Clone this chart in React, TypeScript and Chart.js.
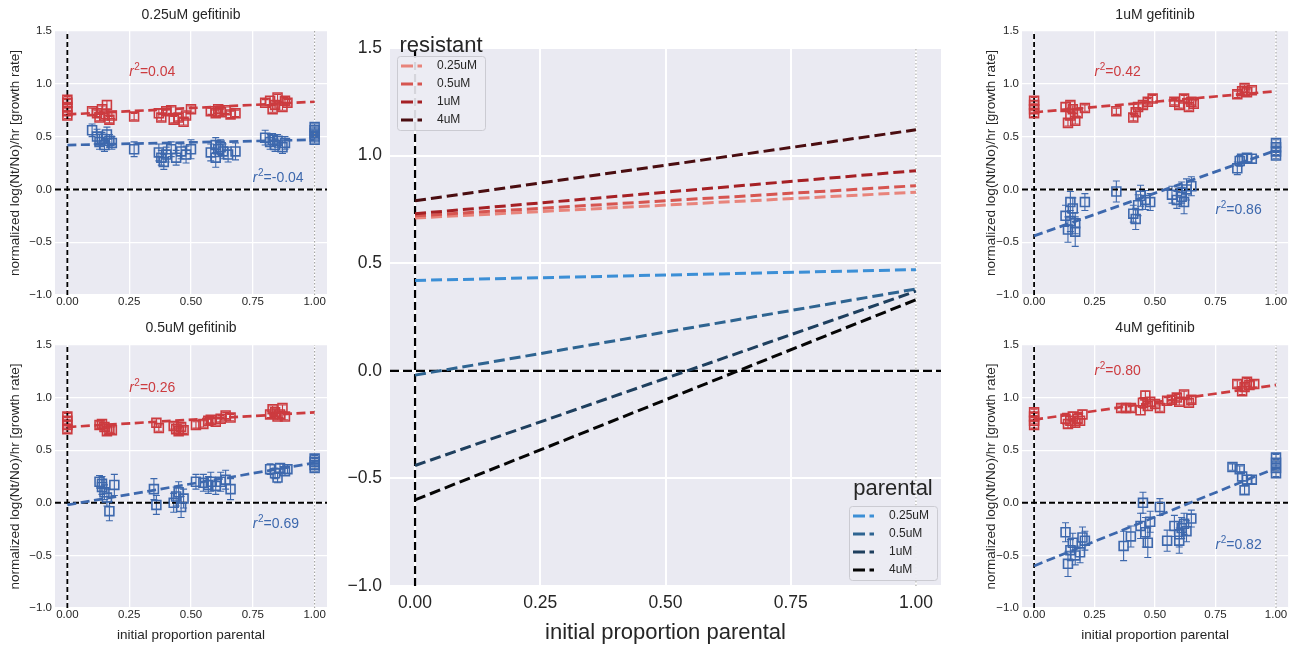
import React, { useEffect, useRef } from 'react';
import { Chart, registerables } from 'chart.js';

Chart.register(...registerables);

// ---------- data ----------
const X_TICKS = [0, 0.25, 0.5, 0.75, 1];
const Y_TICKS = [-1, -0.5, 0, 0.5, 1, 1.5];
const X_MIN = -0.05;
const X_MAX = 1.05;
const Y_MIN = -1;
const Y_MAX = 1.5;

const DOSES = ['0.25uM', '0.5uM', '1uM', '4uM'];
const PANEL_TITLES = ['0.25uM gefitinib', '0.5uM gefitinib', '1uM gefitinib', '4uM gefitinib'];
const X_TITLE = 'initial proportion parental';
const Y_TITLE = 'normalized log(Nt/No)/hr [growth rate]';

// fitted lines: [value at x=0, value at x=1]
const RESISTANT_FIT = [[0.71, 0.83], [0.72, 0.86], [0.73, 0.93], [0.79, 1.12]];
const PARENTAL_FIT = [[0.42, 0.47], [-0.02, 0.38], [-0.44, 0.37], [-0.6, 0.33]];

const RESISTANT_R2 = ['0.04', '0.26', '0.42', '0.80'];
const PARENTAL_R2 = ['-0.04', '0.69', '0.86', '0.82'];
const RESISTANT_R2_AT = [[0.25, 1.12], [0.25, 1.1], [0.25, 1.12], [0.25, 1.26]];
const PARENTAL_R2_AT = [[0.75, 0.12], [0.75, -0.19], [0.75, -0.19], [0.75, -0.39]];

// points: [x, y, error]
const RES_025 = [
  [0, 0.7, 0.03], [0, 0.74, 0.03], [0, 0.78, 0.03], [0, 0.82, 0.03], [0, 0.85, 0.03],
  [0.1, 0.74, 0.03], [0.12, 0.72, 0.03], [0.13, 0.68, 0.03], [0.14, 0.76, 0.03], [0.15, 0.7, 0.03],
  [0.16, 0.8, 0.04], [0.17, 0.66, 0.03], [0.18, 0.7, 0.03],
  [0.27, 0.69, 0.03],
  [0.37, 0.72, 0.04], [0.38, 0.68, 0.03], [0.4, 0.74, 0.03], [0.42, 0.75, 0.03], [0.43, 0.66, 0.03],
  [0.45, 0.68, 0.03], [0.47, 0.64, 0.03], [0.48, 0.7, 0.03], [0.5, 0.76, 0.03],
  [0.58, 0.74, 0.03], [0.6, 0.72, 0.03], [0.61, 0.76, 0.03], [0.62, 0.73, 0.03], [0.64, 0.75, 0.03],
  [0.66, 0.71, 0.03], [0.68, 0.72, 0.03],
  [0.8, 0.82, 0.03], [0.82, 0.84, 0.04], [0.83, 0.76, 0.03], [0.84, 0.8, 0.03], [0.85, 0.87, 0.03],
  [0.87, 0.78, 0.03], [0.88, 0.84, 0.03], [0.89, 0.82, 0.03],
];
const PAR_025 = [
  [1, 0.47, 0.03], [1, 0.5, 0.03], [1, 0.53, 0.03], [1, 0.56, 0.03], [1, 0.59, 0.03],
  [0.1, 0.56, 0.06], [0.12, 0.5, 0.07], [0.13, 0.45, 0.07], [0.14, 0.48, 0.06], [0.15, 0.42, 0.06],
  [0.16, 0.52, 0.07], [0.17, 0.46, 0.06], [0.18, 0.44, 0.06],
  [0.27, 0.38, 0.07],
  [0.37, 0.35, 0.08], [0.38, 0.3, 0.07], [0.39, 0.26, 0.07], [0.4, 0.33, 0.07], [0.42, 0.38, 0.07],
  [0.44, 0.3, 0.07], [0.46, 0.36, 0.07], [0.48, 0.33, 0.08], [0.5, 0.38, 0.09],
  [0.58, 0.35, 0.08], [0.6, 0.3, 0.09], [0.6, 0.42, 0.07], [0.61, 0.38, 0.07], [0.62, 0.4, 0.07],
  [0.63, 0.36, 0.07], [0.65, 0.33, 0.07], [0.68, 0.36, 0.08],
  [0.8, 0.49, 0.07], [0.82, 0.45, 0.07], [0.83, 0.47, 0.06], [0.84, 0.42, 0.06], [0.85, 0.46, 0.06],
  [0.87, 0.4, 0.06], [0.88, 0.44, 0.06],
];
const RES_05 = [
  [0, 0.7, 0.03], [0, 0.74, 0.03], [0, 0.78, 0.03], [0, 0.82, 0.03],
  [0.13, 0.74, 0.03], [0.14, 0.75, 0.03], [0.15, 0.72, 0.03], [0.16, 0.68, 0.03], [0.17, 0.7, 0.03],
  [0.18, 0.69, 0.03],
  [0.36, 0.76, 0.04], [0.37, 0.71, 0.03],
  [0.43, 0.73, 0.03], [0.44, 0.7, 0.03], [0.45, 0.68, 0.03], [0.46, 0.72, 0.03], [0.47, 0.69, 0.03],
  [0.52, 0.74, 0.03], [0.55, 0.75, 0.03], [0.57, 0.78, 0.03], [0.58, 0.79, 0.03], [0.6, 0.77, 0.03],
  [0.62, 0.8, 0.03], [0.64, 0.83, 0.03], [0.66, 0.81, 0.03],
  [0.82, 0.84, 0.03], [0.83, 0.89, 0.03], [0.84, 0.86, 0.03], [0.85, 0.82, 0.03], [0.86, 0.84, 0.03],
  [0.87, 0.9, 0.03], [0.88, 0.82, 0.03],
];
const PAR_05 = [
  [1, 0.33, 0.03], [1, 0.36, 0.03], [1, 0.39, 0.03], [1, 0.42, 0.03],
  [0.13, 0.2, 0.06], [0.14, 0.15, 0.07], [0.14, 0.18, 0.07], [0.15, 0.1, 0.07], [0.16, 0.05, 0.08],
  [0.17, -0.08, 0.09], [0.19, 0.17, 0.1],
  [0.35, 0.13, 0.1], [0.36, -0.02, 0.09],
  [0.43, 0.0, 0.09], [0.44, 0.06, 0.09], [0.45, 0.1, 0.1], [0.46, -0.04, 0.1], [0.47, 0.04, 0.09],
  [0.52, 0.2, 0.07], [0.55, 0.19, 0.08], [0.57, 0.17, 0.08], [0.58, 0.2, 0.09], [0.6, 0.16, 0.08],
  [0.62, 0.2, 0.09], [0.64, 0.22, 0.09], [0.66, 0.13, 0.1],
  [0.82, 0.32, 0.05], [0.84, 0.28, 0.05], [0.85, 0.24, 0.05], [0.86, 0.33, 0.04], [0.88, 0.3, 0.04],
  [0.89, 0.32, 0.04],
];
const RES_1 = [
  [0, 0.72, 0.03], [0, 0.76, 0.03], [0, 0.8, 0.03], [0, 0.84, 0.03],
  [0.13, 0.78, 0.04], [0.14, 0.63, 0.03], [0.15, 0.7, 0.03], [0.15, 0.8, 0.03], [0.16, 0.76, 0.03],
  [0.17, 0.65, 0.03], [0.18, 0.72, 0.03], [0.21, 0.77, 0.03],
  [0.34, 0.74, 0.03],
  [0.41, 0.68, 0.03], [0.42, 0.73, 0.03], [0.43, 0.78, 0.03], [0.45, 0.8, 0.03], [0.47, 0.83, 0.03],
  [0.49, 0.86, 0.03],
  [0.58, 0.83, 0.03], [0.6, 0.8, 0.03], [0.62, 0.86, 0.03], [0.64, 0.78, 0.03], [0.65, 0.83, 0.03],
  [0.66, 0.81, 0.03],
  [0.84, 0.9, 0.03], [0.86, 0.93, 0.03], [0.87, 0.96, 0.03], [0.88, 0.92, 0.03], [0.9, 0.94, 0.03],
];
const PAR_1 = [
  [1, 0.32, 0.03], [1, 0.36, 0.03], [1, 0.4, 0.03], [1, 0.44, 0.03],
  [0.13, -0.25, 0.1], [0.14, -0.38, 0.12], [0.15, -0.12, 0.1], [0.15, -0.3, 0.1], [0.16, -0.18, 0.1],
  [0.17, -0.4, 0.14], [0.17, -0.32, 0.1], [0.21, -0.12, 0.08],
  [0.34, -0.02, 0.1],
  [0.41, -0.23, 0.08], [0.42, -0.28, 0.1], [0.43, -0.15, 0.1], [0.44, -0.06, 0.1], [0.46, -0.1, 0.09],
  [0.48, -0.12, 0.08],
  [0.57, -0.05, 0.08], [0.59, -0.1, 0.08], [0.61, -0.03, 0.1], [0.61, -0.07, 0.09], [0.62, -0.12, 0.11],
  [0.63, 0.0, 0.1], [0.65, 0.03, 0.09],
  [0.84, 0.2, 0.06], [0.85, 0.27, 0.05], [0.86, 0.29, 0.04], [0.88, 0.3, 0.04], [0.9, 0.29, 0.04],
];
const RES_4 = [
  [0, 0.74, 0.03], [0, 0.78, 0.03], [0, 0.82, 0.03], [0, 0.86, 0.03],
  [0.13, 0.8, 0.05], [0.14, 0.75, 0.04], [0.15, 0.78, 0.04], [0.16, 0.82, 0.04], [0.17, 0.76, 0.04],
  [0.18, 0.8, 0.04], [0.19, 0.78, 0.04], [0.2, 0.84, 0.04],
  [0.36, 0.9, 0.03], [0.38, 0.9, 0.03], [0.4, 0.9, 0.03],
  [0.44, 0.88, 0.04], [0.45, 0.95, 0.05], [0.46, 1.02, 0.04], [0.47, 0.92, 0.04], [0.48, 0.96, 0.04],
  [0.5, 0.94, 0.03], [0.52, 0.9, 0.03],
  [0.55, 0.97, 0.03], [0.57, 0.98, 0.03], [0.59, 1.0, 0.03], [0.6, 0.96, 0.03], [0.62, 1.03, 0.03],
  [0.64, 0.95, 0.03], [0.65, 0.98, 0.03],
  [0.84, 1.13, 0.03], [0.86, 1.06, 0.03], [0.87, 1.1, 0.03], [0.88, 1.15, 0.03], [0.89, 1.12, 0.03],
  [0.91, 1.13, 0.03],
];
const PAR_4 = [
  [1, 0.28, 0.03], [1, 0.33, 0.03], [1, 0.38, 0.03], [1, 0.43, 0.03],
  [0.13, -0.28, 0.09], [0.14, -0.58, 0.12], [0.15, -0.45, 0.1], [0.16, -0.38, 0.09], [0.17, -0.5, 0.09],
  [0.19, -0.47, 0.1], [0.2, -0.33, 0.1], [0.21, -0.36, 0.09],
  [0.37, -0.41, 0.14], [0.4, -0.32, 0.1],
  [0.44, -0.22, 0.12], [0.45, 0.0, 0.1], [0.46, -0.28, 0.14], [0.47, -0.38, 0.14], [0.48, -0.18, 0.1],
  [0.52, -0.04, 0.08], [0.55, -0.36, 0.1],
  [0.58, -0.22, 0.1], [0.6, -0.3, 0.12], [0.6, -0.36, 0.12], [0.61, -0.24, 0.1], [0.62, -0.2, 0.1],
  [0.63, -0.27, 0.1], [0.65, -0.15, 0.08],
  [0.82, 0.34, 0.03], [0.85, 0.32, 0.03], [0.86, 0.25, 0.04], [0.87, 0.12, 0.04], [0.88, 0.22, 0.04],
  [0.9, 0.22, 0.04],
];
const RES_POINTS = [RES_025, RES_05, RES_1, RES_4];
const PAR_POINTS = [PAR_025, PAR_05, PAR_1, PAR_4];

// ---------- styles ----------
const FONT = "'Liberation Sans', Arial, Helvetica, sans-serif";
const TEXT_COLOR = '#262626';
const BG = '#EAEAF2';
const RED = '#cc3b3f';
const BLUE = '#3d68ad';
const RESISTANT_COLORS = ['#e8847b', '#d65550', '#a52024', '#4a0d10'];
const PARENTAL_COLORS = ['#3c8fd6', '#2e6491', '#1e3f5e', '#050505'];

const fmt = (v: number, d: number) => (v < -1e-9 ? '\u2212' : '') + Math.abs(v).toFixed(d);

const bgPlugin = {
  id: 'bgFill',
  beforeDraw(chart: any) {
    const { ctx, chartArea: a } = chart;
    ctx.save();
    ctx.fillStyle = BG;
    ctx.fillRect(a.left, a.top, a.right - a.left, a.bottom - a.top);
    ctx.restore();
  },
};

const errorBarPlugin = {
  id: 'errorBars',
  beforeDatasetsDraw(chart: any) {
    const { ctx } = chart;
    const xs = chart.scales.x;
    const ys = chart.scales.y;
    chart.data.datasets.forEach((ds: any) => {
      if (!ds.errorBars) return;
      ctx.save();
      ctx.strokeStyle = ds.borderColor;
      ctx.lineWidth = 1.1;
      ds.data.forEach((p: any, j: number) => {
        const e = ds.errorBars[j];
        const px = xs.getPixelForValue(p.x);
        const y1 = ys.getPixelForValue(p.y - e);
        const y2 = ys.getPixelForValue(p.y + e);
        ctx.beginPath();
        ctx.moveTo(px, y1);
        ctx.lineTo(px, y2);
        ctx.moveTo(px - 3.5, y1);
        ctx.lineTo(px + 3.5, y1);
        ctx.moveTo(px - 3.5, y2);
        ctx.lineTo(px + 3.5, y2);
        ctx.stroke();
      });
      ctx.restore();
    });
  },
};

function drawR2(ctx: CanvasRenderingContext2D, x: number, y: number, value: string, color: string) {
  ctx.save();
  ctx.fillStyle = color;
  ctx.textAlign = 'left';
  ctx.textBaseline = 'alphabetic';
  const base = y + 5;
  ctx.font = `italic 14px ${FONT}`;
  ctx.fillText('r', x, base);
  let cx = x + ctx.measureText('r').width + 0.5;
  ctx.font = `10px ${FONT}`;
  ctx.fillText('2', cx, base - 6);
  cx += ctx.measureText('2').width;
  ctx.font = `14px ${FONT}`;
  ctx.fillText('=' + value, cx, base);
  ctx.restore();
}

function refLines(vWidth: number, vDash: number[], hWidth: number, hDash: number[]) {
  return [
    {
      data: [{ x: X_MIN, y: 0 }, { x: X_MAX, y: 0 }],
      showLine: true, borderColor: '#000', borderWidth: hWidth, borderDash: hDash, pointRadius: 0,
    },
    {
      data: [{ x: 0, y: Y_MIN }, { x: 0, y: Y_MAX }],
      showLine: true, borderColor: '#000', borderWidth: vWidth, borderDash: vDash, pointRadius: 0,
    },
    {
      data: [{ x: 1, y: Y_MIN }, { x: 1, y: Y_MAX }],
      showLine: true, borderColor: '#9a9a9a', borderWidth: 1, borderDash: [1.5, 2], pointRadius: 0,
    },
  ];
}

function scales(opt: any) {
  return {
    x: {
      type: 'linear',
      min: X_MIN,
      max: X_MAX,
      afterBuildTicks: (s: any) => { s.ticks = X_TICKS.map((v) => ({ value: v })); },
      afterFit: (s: any) => { s.height = opt.xHeight; },
      grid: { color: '#ffffff', lineWidth: opt.gridWidth, drawTicks: false },
      border: { display: false },
      ticks: {
        autoSkip: false, maxRotation: 0, padding: opt.xTickPad, color: TEXT_COLOR,
        font: { family: FONT, size: opt.tickSize },
        callback: (v: any) => fmt(Number(v), 2),
      },
      title: opt.xTitle
        ? { display: true, text: X_TITLE, color: TEXT_COLOR, font: { family: FONT, size: opt.xTitleSize }, padding: { top: 0, bottom: opt.xTitlePad } }
        : { display: false },
    },
    y: {
      type: 'linear',
      min: Y_MIN,
      max: Y_MAX,
      afterBuildTicks: (s: any) => { s.ticks = Y_TICKS.map((v) => ({ value: v })); },
      afterFit: (s: any) => { s.width = opt.yWidth; },
      grid: { color: '#ffffff', lineWidth: opt.gridWidth, drawTicks: false },
      border: { display: false },
      ticks: {
        autoSkip: false, padding: opt.yTickPad, color: TEXT_COLOR,
        font: { family: FONT, size: opt.tickSize },
        callback: (v: any) => fmt(Number(v), 1),
      },
      title: opt.yTitle
        ? { display: true, text: Y_TITLE, color: TEXT_COLOR, font: { family: FONT, size: 13.5 }, padding: { top: opt.yTitlePad, bottom: 0 } }
        : { display: false },
    },
  };
}

type PanelProps = {
  idx: number; left: number; top: number; w: number; h: number;
  L: number; T: number; R: number; B: number;
  titleCenter: number; yTitlePad: number; xTitle: boolean;
};

function MiniPanel(p: PanelProps) {
  const ref = useRef<HTMLCanvasElement>(null);
  useEffect(() => {
    const i = p.idx;
    const fitDs = (vals: number[], color: string) => ({
      data: [{ x: 0, y: vals[0] }, { x: 1, y: vals[1] }],
      showLine: true, borderColor: color, borderWidth: 2.7, borderDash: [9, 4.5], pointRadius: 0,
    });
    const ptsDs = (pts: number[][], color: string) => ({
      data: pts.map((q) => ({ x: q[0], y: q[1] })),
      errorBars: pts.map((q) => q[2]),
      showLine: false,
      borderColor: color,
      backgroundColor: 'rgba(0,0,0,0)',
      pointStyle: 'rect',
      pointRadius: 6.3,
      pointBorderWidth: 1.6,
      pointBorderColor: color,
      pointBackgroundColor: 'rgba(0,0,0,0)',
    });
    const textPlugin = {
      id: 'panelText',
      afterDraw(chart: any) {
        const { ctx, chartArea: a } = chart;
        ctx.save();
        ctx.fillStyle = TEXT_COLOR;
        ctx.font = `14px ${FONT}`;
        ctx.textAlign = 'center';
        ctx.textBaseline = 'middle';
        ctx.fillText(PANEL_TITLES[i], (a.left + a.right) / 2, p.titleCenter);
        ctx.restore();
      },
      afterDatasetsDraw(chart: any) {
        const xs = chart.scales.x;
        const ys = chart.scales.y;
        drawR2(chart.ctx, xs.getPixelForValue(RESISTANT_R2_AT[i][0]), ys.getPixelForValue(RESISTANT_R2_AT[i][1]), RESISTANT_R2[i], RED);
        drawR2(chart.ctx, xs.getPixelForValue(PARENTAL_R2_AT[i][0]), ys.getPixelForValue(PARENTAL_R2_AT[i][1]), PARENTAL_R2[i], BLUE);
      },
    };
    const chart = new Chart(ref.current as HTMLCanvasElement, {
      type: 'scatter',
      data: {
        datasets: [
          fitDs(RESISTANT_FIT[i], RED),
          fitDs(PARENTAL_FIT[i], BLUE),
          ptsDs(RES_POINTS[i], RED),
          ptsDs(PAR_POINTS[i], BLUE),
          ...refLines(1.8, [5, 3], 2, [6, 3]),
        ] as any,
      },
      options: {
        animation: false,
        responsive: false,
        maintainAspectRatio: false,
        events: [],
        layout: { padding: { top: p.T, left: 0, right: p.w - p.R, bottom: 0 } },
        plugins: {
          legend: { display: false },
          tooltip: { enabled: false },
          title: { display: false },
        },
        scales: scales({
          xHeight: p.h - p.B, yWidth: p.L, gridWidth: 1.3, tickSize: 11.5,
          xTickPad: 0, yTickPad: 3, xTitle: p.xTitle, xTitleSize: 13.5, xTitlePad: 3,
          yTitle: true, yTitlePad: p.yTitlePad,
        }) as any,
      },
      plugins: [bgPlugin, errorBarPlugin, textPlugin],
    });
    return () => chart.destroy();
  }, []);
  return (
    <canvas
      ref={ref}
      width={p.w}
      height={p.h}
      style={{ position: 'absolute', left: p.left, top: p.top, width: p.w, height: p.h }}
    />
  );
}

function drawGroupLegend(ctx: CanvasRenderingContext2D, bx: number, by: number, title: string, colors: string[], titleGap: number) {
  const w = 88;
  const h = 74;
  ctx.save();
  ctx.fillStyle = 'rgba(236,236,243,0.9)';
  ctx.strokeStyle = '#cbcbd2';
  ctx.lineWidth = 1;
  ctx.beginPath();
  (ctx as any).roundRect(bx + 0.5, by + 0.5, w, h, 3);
  ctx.fill();
  ctx.stroke();
  ctx.fillStyle = TEXT_COLOR;
  ctx.font = `22px ${FONT}`;
  ctx.textAlign = 'center';
  ctx.textBaseline = 'alphabetic';
  ctx.fillText(title, bx + w / 2, by - titleGap);
  DOSES.forEach((d, i) => {
    const yy = by + 10 + i * 18;
    ctx.strokeStyle = colors[i];
    ctx.lineWidth = 3;
    ctx.setLineDash([12, 4.5]);
    ctx.beginPath();
    ctx.moveTo(bx + 4, yy);
    ctx.lineTo(bx + 25, yy);
    ctx.stroke();
    ctx.setLineDash([]);
    ctx.fillStyle = TEXT_COLOR;
    ctx.font = `12px ${FONT}`;
    ctx.textAlign = 'left';
    ctx.textBaseline = 'middle';
    ctx.fillText(d, bx + 40, yy);
  });
  ctx.restore();
}

function CenterPanel() {
  const ref = useRef<HTMLCanvasElement>(null);
  useEffect(() => {
    const lineDs = (vals: number[], color: string) => ({
      data: [{ x: 0, y: vals[0] }, { x: 1, y: vals[1] }],
      showLine: true, borderColor: color, borderWidth: 3, borderDash: [11, 5], pointRadius: 0,
    });
    const legendPlugin = {
      id: 'groupLegends',
      afterDraw(chart: any) {
        const { ctx, chartArea: a } = chart;
        drawGroupLegend(ctx, a.left + 7, a.top + 8, 'resistant', RESISTANT_COLORS, 4);
        drawGroupLegend(ctx, a.right - 4 - 88, a.bottom - 6 - 74, 'parental', PARENTAL_COLORS, 11);
      },
    };
    const W = 620;
    const H = 646;
    const chart = new Chart(ref.current as HTMLCanvasElement, {
      type: 'scatter',
      data: {
        datasets: [
          ...RESISTANT_FIT.map((v, i) => lineDs(v, RESISTANT_COLORS[i])).reverse(),
          ...PARENTAL_FIT.map((v, i) => lineDs(v, PARENTAL_COLORS[i])).reverse(),
          ...refLines(2.2, [8, 4], 2.2, [9, 4]),
        ] as any,
      },
      options: {
        animation: false,
        responsive: false,
        maintainAspectRatio: false,
        events: [],
        layout: { padding: { top: 48, left: 0, right: W - 601, bottom: 0 } },
        plugins: { legend: { display: false }, tooltip: { enabled: false }, title: { display: false } },
        scales: scales({
          xHeight: H - 586, yWidth: 50, gridWidth: 2, tickSize: 17.5,
          xTickPad: 7, yTickPad: 8, xTitle: true, xTitleSize: 22, xTitlePad: 0,
          yTitle: false, yTitlePad: 0,
        }) as any,
      },
      plugins: [bgPlugin, legendPlugin],
    });
    return () => chart.destroy();
  }, []);
  return (
    <canvas
      ref={ref}
      width={620}
      height={646}
      style={{ position: 'absolute', left: 340, top: 0, width: 620, height: 646 }}
    />
  );
}

const PANELS: PanelProps[] = [
  { idx: 0, left: 0, top: 0, w: 340, h: 310, L: 55, T: 31, R: 327, B: 295, titleCenter: 15, yTitlePad: 7, xTitle: false },
  { idx: 1, left: 0, top: 310, w: 340, h: 336, L: 55, T: 35, R: 327, B: 298, titleCenter: 18.5, yTitlePad: 7, xTitle: true },
  { idx: 2, left: 960, top: 0, w: 336, h: 310, L: 62, T: 31, R: 334, B: 295, titleCenter: 15, yTitlePad: 23, xTitle: false },
  { idx: 3, left: 960, top: 310, w: 336, h: 336, L: 62, T: 35, R: 334, B: 298, titleCenter: 18.5, yTitlePad: 23, xTitle: true },
];

export default function App() {
  return (
    <div style={{ position: 'absolute', left: 0, top: 0, width: 1296, height: 646, background: '#fff', overflow: 'hidden' }}>
      {PANELS.map((p) => (
        <MiniPanel key={p.idx} {...p} />
      ))}
      <CenterPanel />
    </div>
  );
}
